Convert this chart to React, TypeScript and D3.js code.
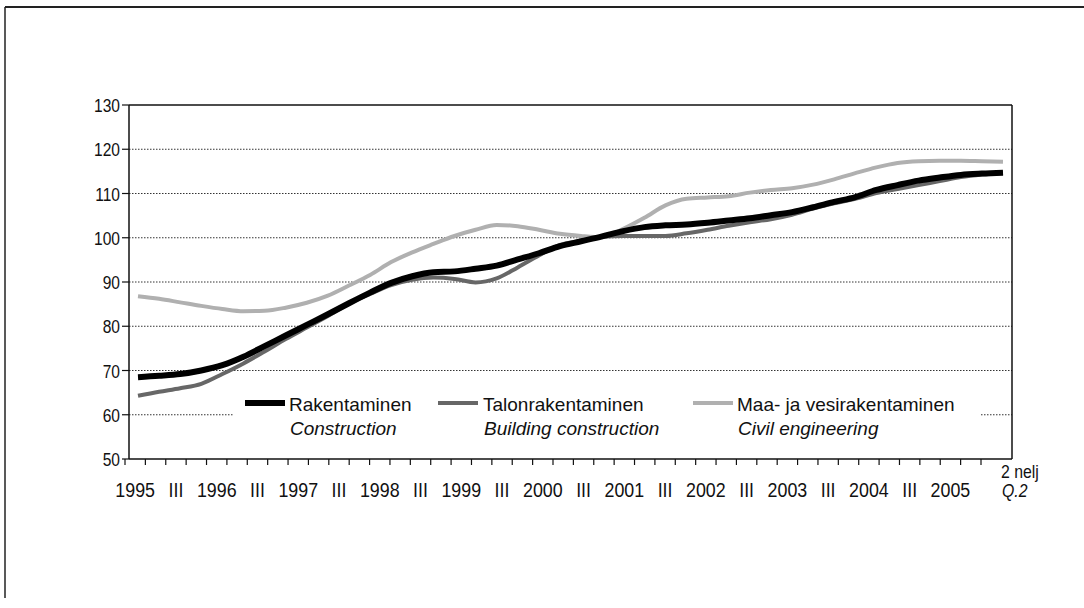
import React from "react";
import * as d3 from "d3";

const years = ["1995","1996","1997","1998","1999","2000","2001","2002","2003","2004","2005"];
const quarterNames = ["I","II","III","IV"];
const quarters: string[] = [];
years.forEach((yr) => quarterNames.forEach((q) => quarters.push(yr + " " + q)));
quarters.splice(42); // 1995 Q1 ... 2005 Q2

const rakentaminen = [
  68.5, 68.8, 69.2, 70.0, 71.2, 73.1, 75.5, 77.9, 80.3, 82.7,
  85.2, 87.6, 89.8, 91.3, 92.2, 92.4, 93.0, 93.7, 95.1, 96.5,
  98.1, 99.2, 100.3, 101.5, 102.4, 102.8, 103.0, 103.4, 103.9, 104.4,
  105.1, 105.8, 106.9, 108.1, 109.2, 110.8, 111.9, 112.9, 113.6, 114.2,
  114.5, 114.7,
];
const talonrakentaminen = [
  64.3, 65.2, 66.0, 67.0, 69.2, 71.6, 74.3, 77.1, 79.7, 82.3,
  85.1, 87.3, 89.3, 90.5, 91.0, 90.7, 89.9, 90.8, 93.3, 96.0,
  98.4, 99.3, 100.2, 100.4, 100.4, 100.4, 101.0, 101.8, 102.7, 103.5,
  104.2, 105.2, 106.6, 107.8, 108.8, 110.1, 111.0, 111.9, 112.8, 113.7,
  114.3, 114.7,
];
const maaJaVesi = [
  86.8, 86.2, 85.4, 84.6, 83.9, 83.4, 83.5, 84.2, 85.3, 86.9,
  89.2, 91.6, 94.5, 96.7, 98.6, 100.4, 101.8, 102.9, 102.6, 101.8,
  100.9, 100.4, 100.1, 102.0, 104.5, 107.3, 108.8, 109.1, 109.4, 110.2,
  110.8, 111.2, 112.0, 113.2, 114.6, 115.9, 116.9, 117.3, 117.4, 117.4,
  117.3, 117.2,
];
const yTicks = [50, 60, 70, 80, 90, 100, 110, 120, 130];

const FONT = "'Liberation Sans', Arial, Helvetica, sans-serif";

function NarrowText(props: { x: number; y: number; size: number; sx: number; anchor?: string; italic?: boolean; children: React.ReactNode }) {
  const { x, y, size, sx, anchor, italic, children } = props;
  return (
    <g transform={`translate(${x},${y}) scale(${sx},1)`}>
      <text x={0} y={0} fontSize={size} textAnchor={anchor || "start"} fontStyle={italic ? "italic" : "normal"} fill="#111">{children}</text>
    </g>
  );
}

export default function App() {
  const W = 1084, H = 608;
  const left = 129, right = 1012, top = 105, bottom = 459;

  const y = d3.scaleLinear().domain([50, 130]).range([bottom, top]);
  const xBand = d3.scaleBand<string>().domain(quarters).range([125, 981]);
  const xLine = d3.scalePoint<string>().domain(quarters).range([138, 1003]);

  const mkLine = (vals: number[]) =>
    d3.line<number>()
      .x((_, i) => xLine(quarters[i]) as number)
      .y((d) => y(d))
      .curve(d3.curveMonotoneX)(vals) as string;

  const tickXs = quarters.map((q) => xBand(q) as number).concat([(xBand(quarters[41]) as number) + xBand.bandwidth()]);

  const series = [
    { name: "Rakentaminen", en: "Construction", vals: rakentaminen, color: "#000", width: 6, lx: 245, tx: 289 },
    { name: "Talonrakentaminen", en: "Building construction", vals: talonrakentaminen, color: "#676767", width: 4, lx: 438, tx: 483 },
    { name: "Maa- ja vesirakentaminen", en: "Civil engineering", vals: maaJaVesi, color: "#b0b0b0", width: 4, lx: 693, tx: 737 },
  ];

  return (
    <svg width={W} height={H} style={{ position: "absolute", left: 0, top: 0, background: "#fff" }} fontFamily={FONT}>
      {/* page frame */}
      <line x1={5} y1={7} x2={W} y2={7} stroke="#222" strokeWidth={2} />
      <line x1={5} y1={7} x2={5} y2={598} stroke="#222" strokeWidth={1.5} />

      {/* gridlines */}
      {yTicks.filter((t) => t > 50 && t < 130).map((t) => (
        <line key={"g" + t} x1={left} x2={right} y1={y(t)} y2={y(t)} stroke="#333" strokeWidth={1} strokeDasharray="1.5,1.5" />
      ))}

      {/* plot box */}
      <line x1={left} x2={right} y1={top} y2={top} stroke="#111" strokeWidth={1.5} />
      <line x1={right} x2={right} y1={top} y2={bottom} stroke="#111" strokeWidth={1.5} />
      <line x1={left} x2={left} y1={top} y2={bottom} stroke="#111" strokeWidth={1.5} />
      <line x1={left} x2={right} y1={bottom} y2={bottom} stroke="#111" strokeWidth={1.5} />

      {/* y ticks & labels */}
      {yTicks.map((t) => (
        <g key={"y" + t}>
          <line x1={122} x2={left} y1={y(t)} y2={y(t)} stroke="#111" strokeWidth={1.2} />
          <NarrowText x={120} y={y(t) + 7} size={19} sx={0.82} anchor="end">{t}</NarrowText>
        </g>
      ))}

      {/* x ticks */}
      {tickXs.map((tx, i) => (
        <line key={"xt" + i} x1={tx} x2={tx} y1={bottom} y2={bottom + 6} stroke="#111" strokeWidth={1.2} />
      ))}

      {/* x labels */}
      {quarters.map((q, i) => {
        const qi = i % 4;
        const label = qi === 0 ? q.split(" ")[0] : qi === 2 ? "III" : "";
        if (!label) return null;
        return (
          <NarrowText key={"xl" + q} x={(xBand(q) as number) + xBand.bandwidth() / 2} y={497} size={21} sx={0.85} anchor="middle">{label}</NarrowText>
        );
      })}
      <NarrowText x={1001} y={478} size={18} sx={0.88}>2 nelj</NarrowText>
      <NarrowText x={1002} y={497} size={18} sx={0.88} italic>Q.2</NarrowText>

      {/* series lines */}
      {series.slice().reverse().map((s) => (
        <path key={s.name} d={mkLine(s.vals)} fill="none" stroke={s.color} strokeWidth={s.width} strokeLinejoin="round" strokeLinecap="butt" />
      ))}

      {/* legend */}
      <rect x={233} y={388} width={747} height={56} fill="#fff" />
      {series.map((s) => (
        <g key={"lg" + s.name}>
          <line x1={s.lx} x2={s.lx + 40} y1={403} y2={403} stroke={s.color} strokeWidth={s.width} />
          <text x={s.tx} y={411} fontSize={19} fill="#111">{s.name}</text>
          <text x={s.tx + 1} y={435} fontSize={19} fontStyle="italic" fill="#111">{s.en}</text>
        </g>
      ))}
    </svg>
  );
}
